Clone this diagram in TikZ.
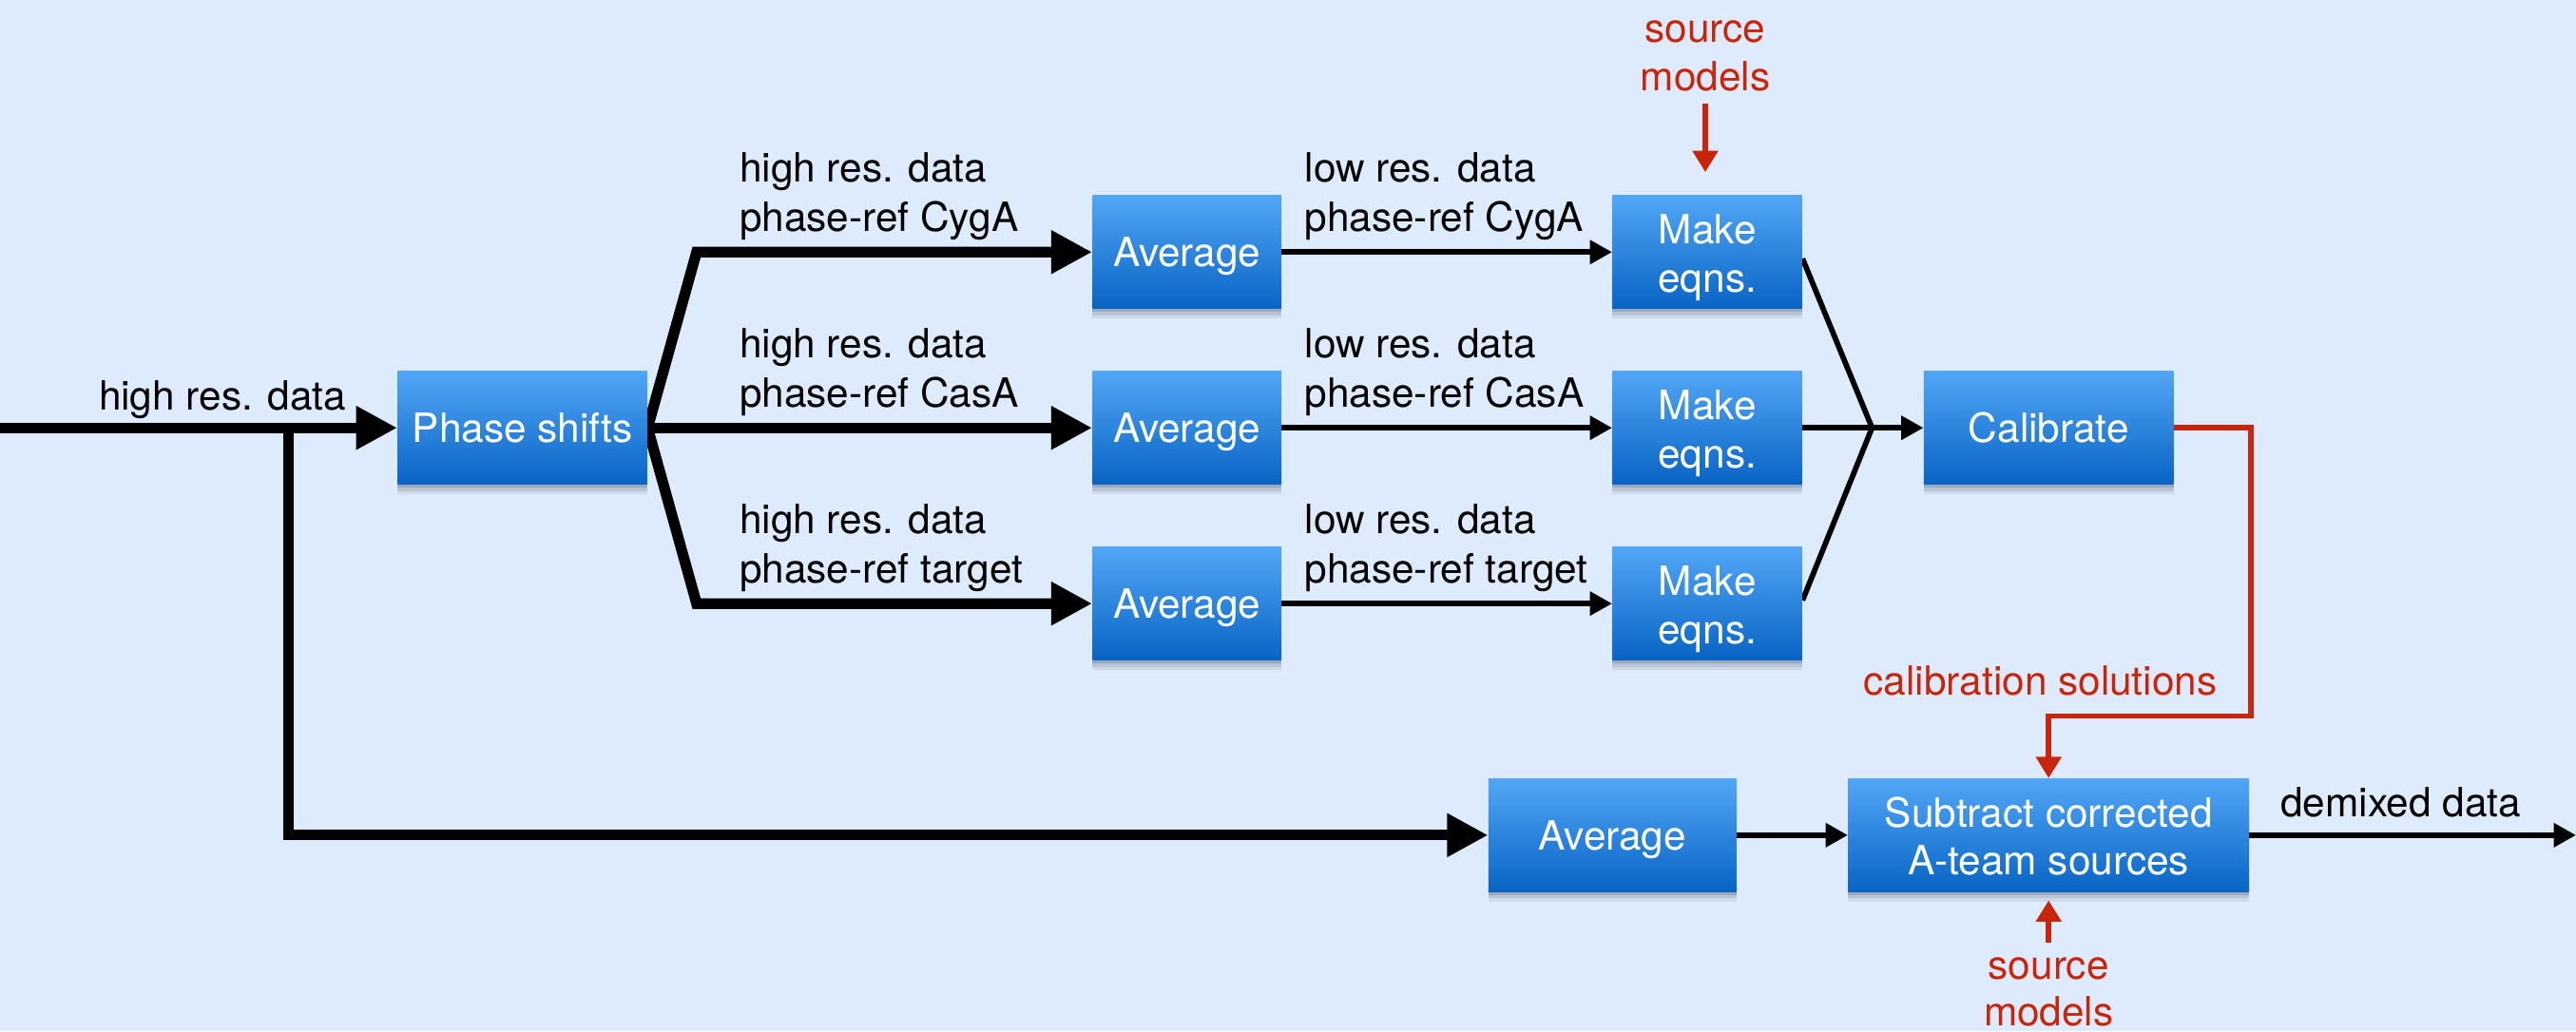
\documentclass[tikz,border=0pt]{standalone}
\usepackage{fontspec}
\setmainfont{TeX Gyre Heros}
\usetikzlibrary{arrows.meta,shadows}

\definecolor{paperblue}{RGB}{221,235,253}
\definecolor{boxtop}{RGB}{82,166,246}
\definecolor{boxbot}{RGB}{8,100,196}
\definecolor{calred}{RGB}{200,38,12}

\pgfdeclarelayer{paper}
\pgfdeclarelayer{wires}
\pgfsetlayers{paper,wires,main}

\begin{document}
\begin{tikzpicture}[
  x=1pt, y=-1pt,
  font=\fontsize{24.5}{29.5}\selectfont,
  softshadow/.style={
    general shadow={fill=black, opacity=0.07, shadow yshift=-6pt},
    general shadow={fill=black, opacity=0.10, shadow yshift=-4pt},
    general shadow={fill=black, opacity=0.14, shadow yshift=-2pt}},
  box/.style={rectangle, inner sep=0pt, draw=none, text=white,
    softshadow, top color=boxtop, bottom color=boxbot,
    text height=18pt, text depth=0pt},
  boxtext/.style={anchor=base, inner sep=0pt, text=white},
  lbl/.style={anchor=base west, inner sep=0pt},
  redlbl/.style={anchor=base, inner sep=0pt, text=calred},
  heavyline/.style={line width=6.5pt, line join=miter},
  heavyarrow/.style={heavyline, -{Triangle[length=25pt,width=25pt]}},
  lightline/.style={line width=3.3pt},
  lightarrow/.style={lightline, -{Triangle[length=13.5pt,width=14pt]}},
  redline/.style={draw=calred, line width=3.2pt, line join=miter},
  redarrow/.style={redline, -{Triangle[length=13pt,width=15pt]}},
]
\useasboundingbox (0,0) rectangle (1568,628);
\begin{pgfonlayer}{paper}
  \fill[paperblue] (0,0) rectangle (1568,628);
\end{pgfonlayer}

% processing blocks
\node[box, minimum width=152pt, minimum height=69pt] (phs) at (318,260.5) {Phase shifts};

\node[box, minimum width=115pt, minimum height=69pt] (avg1) at (722.5,153.5) {Average};
\node[box, minimum width=115pt, minimum height=69pt] (avg2) at (722.5,260.5) {Average};
\node[box, minimum width=115pt, minimum height=69pt] (avg3) at (722.5,367.5) {Average};

\node[box, minimum width=115.5pt, minimum height=69pt] (mk1) at (1039.25,153.5) {};
\node[box, minimum width=115.5pt, minimum height=69pt] (mk2) at (1039.25,260.5) {};
\node[box, minimum width=115.5pt, minimum height=69pt] (mk3) at (1039.25,367.5) {};
\node[boxtext] (mk1a) at (1039.25,148.5) {Make};
\node[boxtext] (mk1b) at (1039.25,178) {eqns.};
\node[boxtext] (mk2a) at (1039.25,255.5) {Make};
\node[boxtext] (mk2b) at (1039.25,285) {eqns.};
\node[boxtext] (mk3a) at (1039.25,362.5) {Make};
\node[boxtext] (mk3b) at (1039.25,392) {eqns.};

\node[box, minimum width=152pt, minimum height=69pt] (cal) at (1247,260.5) {Calibrate};

\node[box, minimum width=151pt, minimum height=69pt] (avgB) at (981.5,508.5) {Average};

\node[box, minimum width=244pt, minimum height=69pt] (sub) at (1247,508.5) {};
\node[boxtext] (suba) at (1247,503.5) {Subtract corrected};
\node[boxtext] (subb) at (1247,532.5) {A-team sources};

% edge labels
\node[lbl] (inlbl) at (60,249.5) {high res. data};

\node[lbl] (h1a) at (450,111) {high res. data};
\node[lbl] (h1b) at (450,141) {phase-ref CygA};
\node[lbl] (h2a) at (450,218) {high res. data};
\node[lbl] (h2b) at (450,248) {phase-ref CasA};
\node[lbl] (h3a) at (450,325) {high res. data};
\node[lbl] (h3b) at (450,355) {phase-ref target};

\node[lbl] (l1a) at (794,111) {low res. data};
\node[lbl] (l1b) at (794,141) {phase-ref CygA};
\node[lbl] (l2a) at (794,218) {low res. data};
\node[lbl] (l2b) at (794,248) {phase-ref CasA};
\node[lbl] (l3a) at (794,325) {low res. data};
\node[lbl] (l3b) at (794,355) {phase-ref target};

\node[lbl] (outlbl) at (1388,497.5) {demixed data};

\node[redlbl] (srcTa) at (1038,26) {source};
\node[redlbl] (srcTb) at (1038,55) {models};
\node[redlbl] (solv) at (1242,423.5) {calibration solutions};
\node[redlbl] (srcBa) at (1247,596) {source};
\node[redlbl] (srcBb) at (1247,624.5) {models};

% junction and bend points
\coordinate (feed) at (0,260.5);
\coordinate (split) at (175.7,260.5);
\coordinate (splitdown) at (175.7,508.5);
\coordinate (fan1) at (424,153.5);
\coordinate (fan3) at (424,367.5);
\coordinate (join) at (1139.5,260.5);
\coordinate (r1) at (1370,260.5);
\coordinate (r2) at (1370,436);
\coordinate (r3) at (1247,436);
\coordinate (srcTend) at (1038,63);
\coordinate (srcBend) at (1247,574);
\coordinate (result) at (1568,508.5);

\begin{pgfonlayer}{wires}
  % high resolution input and its bypass
  \draw[heavyarrow] (feed) -- (phs.west);
  \draw[heavyarrow] (split) -- (splitdown) -- (avgB.west);

  % phase-shifted copies
  \draw[heavyarrow] (phs.east) -- (fan1) -- (avg1.west);
  \draw[heavyarrow] (phs.east) -- (avg2.west);
  \draw[heavyarrow] (phs.east) -- (fan3) -- (avg3.west);

  % averaged copies
  \draw[lightarrow] (avg1.east) -- (mk1.west);
  \draw[lightarrow] (avg2.east) -- (mk2.west);
  \draw[lightarrow] (avg3.east) -- (mk3.west);

  % equations into the solver
  \draw[lightline] ([yshift=-4pt]mk1.east) -- (join);
  \draw[lightline] (mk2.east) -- (join);
  \draw[lightline] ([yshift=2pt]mk3.east) -- (join);
  \draw[lightarrow] (join) -- (cal.west);

  % subtraction
  \draw[lightarrow] (avgB.east) -- (sub.west);
  \draw[lightarrow] (sub.east) -- (result);

  % model and solution inputs
  \draw[redarrow] (srcTend) -- ([yshift=14pt]mk1.north -| srcTend);
  \draw[redarrow] (cal.east) -- (r1) -- (r2) -- (r3) -- (sub.north);
  \draw[redarrow] (srcBend) -- ([yshift=-5pt]sub.south);
\end{pgfonlayer}
\end{tikzpicture}
\end{document}
